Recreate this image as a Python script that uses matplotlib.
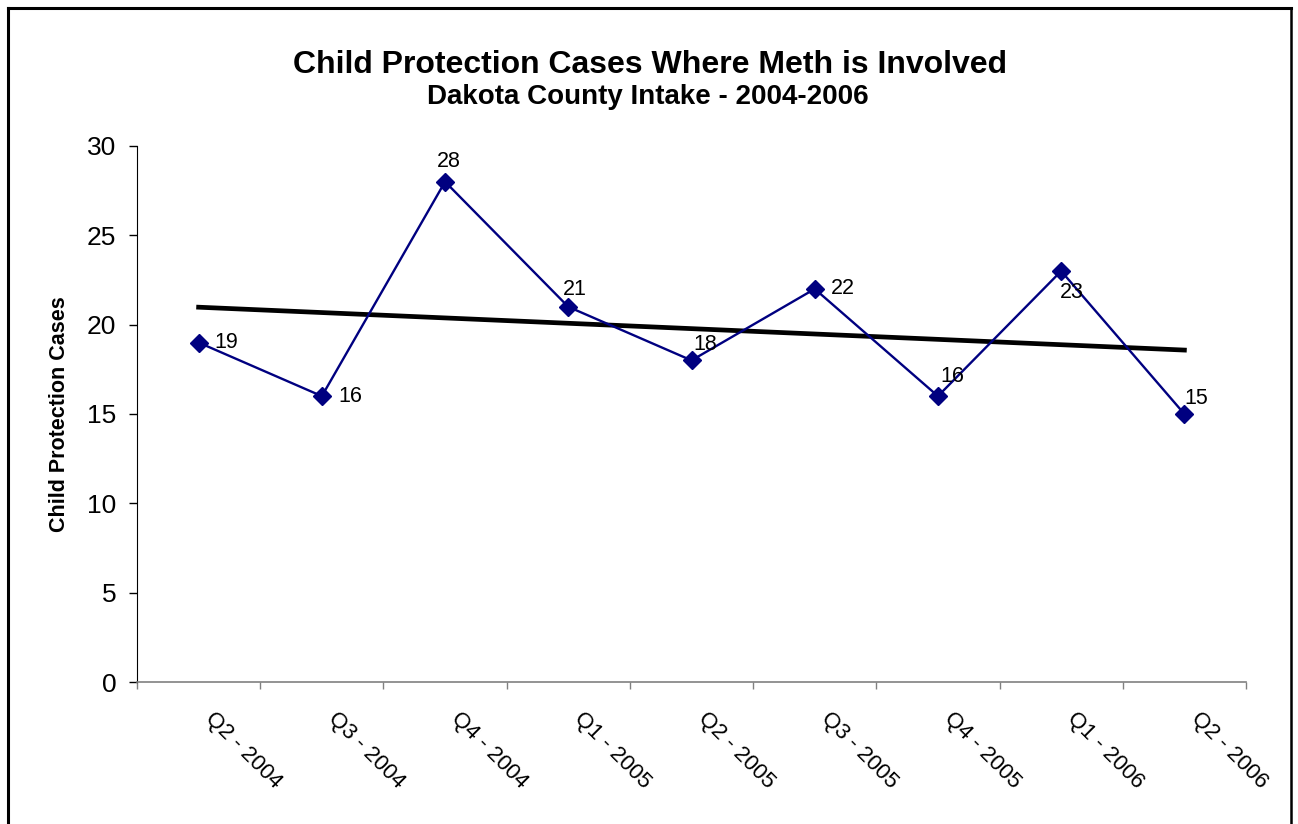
import matplotlib
matplotlib.use('Agg')
import matplotlib.pyplot as plt
from matplotlib.lines import Line2D
from matplotlib.transforms import ScaledTranslation
import numpy as np

plt.rcParams['font.family'] = ['Liberation Sans', 'DejaVu Sans']

quarters = ['Q2 - 2004', 'Q3 - 2004', 'Q4 - 2004', 'Q1 - 2005', 'Q2 - 2005',
            'Q3 - 2005', 'Q4 - 2005', 'Q1 - 2006', 'Q2 - 2006']
cases = [19, 16, 28, 21, 18, 22, 16, 23, 15]
yticks = [0, 5, 10, 15, 20, 25, 30]

# label offsets in pixels (dx right, dy down) as placed in the original chart
label_offsets = [(28, 0), (28, 0), (4, -20), (7, -17), (14, -16),
                 (28, 0), (14, -20), (11, 21), (12, -15)]

navy = '#000080'

fig = plt.figure(figsize=(12.98, 8.24), dpi=100)
ax = fig.add_axes([137 / 1298, 1 - 682 / 824, 1109 / 1298, 536 / 824])

x = np.arange(len(cases))
ax.plot(x, cases, color=navy, lw=1.7, marker='D', ms=9, zorder=3)

# linear trendline
slope, intercept = np.polyfit(x, cases, 1)
ax.plot(x, slope * x + intercept, color='black', lw=3.4, zorder=2)

for xi, v, (dx, dy) in zip(x, cases, label_offsets):
    ax.annotate(str(v), xy=(xi, v), xytext=(dx * 0.72, -dy * 0.72),
                textcoords='offset points', ha='center', va='center',
                fontsize=15.5, zorder=4)

ax.set_xlim(-0.5, len(cases) - 0.5)
ax.set_ylim(0, 30)
ax.set_yticks(yticks)
ax.tick_params(axis='y', direction='out', length=6, width=1, labelsize=19,
               pad=9, color='black')

ax.set_xticks(np.arange(len(cases) + 1) - 0.5)
ax.set_xticklabels([])
ax.set_xticks(x, minor=True)
ax.set_xticklabels(quarters, minor=True, rotation=-45, rotation_mode='anchor',
                   ha='left', va='top', fontsize=16)
ax.tick_params(axis='x', which='major', direction='out', length=5, width=1,
               color='#808080')
ax.tick_params(axis='x', which='minor', length=0, pad=19)
for lab in ax.get_xticklabels(minor=True):
    lab.set_transform(lab.get_transform() + ScaledTranslation(0.17, 0, fig.dpi_scale_trans))

for s in ['top', 'right']:
    ax.spines[s].set_visible(False)
ax.spines['left'].set_color('black')
ax.spines['bottom'].set_color('#808080')
ax.spines['bottom'].set_linewidth(1.2)

ax.set_ylabel('Child Protection Cases', fontsize=15.5, fontweight='bold')
ax.yaxis.set_label_coords(-0.0604, 0.5)

fig.text(0.5004, 1 - 73 / 824, 'Child Protection Cases Where Meth is Involved',
         ha='center', va='baseline', fontsize=23, fontweight='bold')
fig.text(0.4988, 1 - 104 / 824, 'Dakota County Intake - 2004-2006',
         ha='center', va='baseline', fontsize=20, fontweight='bold')

# outer chart frame (no bottom edge visible)
fx0, fx1, fy1 = 8 / 1298, 1291 / 1298, 1 - 8 / 824
fig.add_artist(Line2D([fx0, fx0], [0, fy1], color='black', lw=2.2))
fig.add_artist(Line2D([fx0, fx1], [fy1, fy1], color='black', lw=2.2))
fig.add_artist(Line2D([fx1, fx1], [0, fy1], color='black', lw=1.8))

fig.savefig('out.png', dpi=100)
